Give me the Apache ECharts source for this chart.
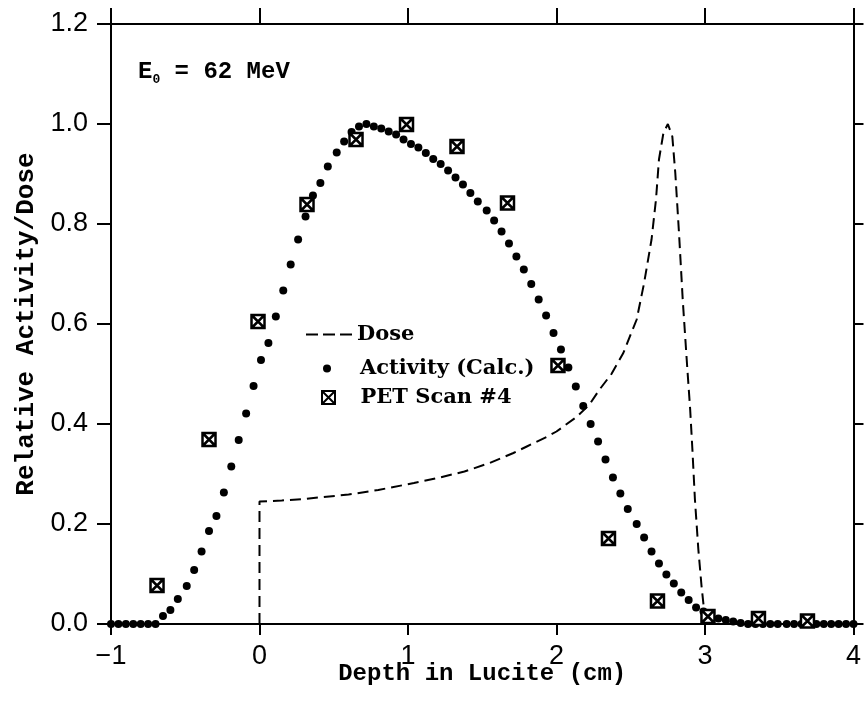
<!DOCTYPE html>
<html>
<head>
<meta charset="utf-8">
<script src="https://cdn.jsdelivr.net/npm/echarts@6/dist/echarts.min.js"></script>
<style>
  html, body { margin: 0; padding: 0; background: #fff; }
  #chart { width: 864px; height: 704px; }
</style>
</head>
<body>
<div id="chart"></div>
<script>
// calculated activity (dots)
const ACT_X = [
  -1.00, -0.95, -0.90, -0.85, -0.80, -0.75, -0.70, -0.65, -0.60, -0.55,
  -0.49, -0.44, -0.39, -0.34, -0.29, -0.24, -0.19, -0.14, -0.09, -0.04,
  0.01, 0.06, 0.11, 0.16, 0.21, 0.26, 0.31, 0.36, 0.41, 0.46,
  0.52, 0.57, 0.62, 0.67, 0.72, 0.77, 0.82, 0.87, 0.92, 0.97,
  1.02, 1.07, 1.12, 1.17, 1.22, 1.27, 1.32, 1.37, 1.42, 1.47,
  1.53, 1.58, 1.63, 1.68, 1.73, 1.78, 1.83, 1.88, 1.93, 1.98,
  2.03, 2.08, 2.13, 2.18, 2.23, 2.28, 2.33, 2.38, 2.43, 2.48,
  2.54, 2.59, 2.64, 2.69, 2.74, 2.79, 2.84, 2.89, 2.94, 2.99,
  3.04, 3.09, 3.14, 3.19, 3.24, 3.29, 3.34, 3.39, 3.44, 3.49,
  3.55, 3.60, 3.65, 3.70, 3.75, 3.80, 3.85, 3.90, 3.95, 4.00
];
const ACT_Y = [
  0, 0, 0, 0, 0, 0, 0, 0.016, 0.028, 0.050,
  0.076, 0.108, 0.145, 0.186, 0.216, 0.263, 0.315, 0.368, 0.421, 0.476,
  0.528, 0.562, 0.615, 0.667, 0.719, 0.769, 0.815, 0.857, 0.882, 0.915,
  0.943, 0.965, 0.984, 0.995, 1.000, 0.995, 0.991, 0.985, 0.979, 0.969,
  0.960, 0.953, 0.942, 0.930, 0.920, 0.907, 0.893, 0.879, 0.862, 0.845,
  0.827, 0.807, 0.785, 0.761, 0.735, 0.709, 0.680, 0.649, 0.617, 0.582,
  0.549, 0.513, 0.475, 0.436, 0.400, 0.365, 0.329, 0.293, 0.261, 0.230,
  0.200, 0.173, 0.145, 0.121, 0.099, 0.081, 0.063, 0.048, 0.033, 0.025,
  0.016, 0.011, 0.008, 0.005, 0.002, 0, 0, 0, 0, 0,
  0, 0, 0, 0, 0, 0, 0, 0, 0, 0
];

// PET scan #4 (boxed crosses)
const PET_X = [-0.69, -0.34, -0.01, 0.32, 0.65, 0.99, 1.33, 1.67, 2.01, 2.35, 2.68, 3.02, 3.36, 3.69];
const PET_Y = [0.077, 0.369, 0.605, 0.839, 0.969, 0.999, 0.955, 0.842, 0.517, 0.171, 0.046, 0.015, 0.011, 0.006];

// dose (dashed)
const DOSE_X = [
  0, 0, 0.15, 0.3, 0.6, 0.8, 1.04, 1.2, 1.38, 1.55, 1.71, 1.8, 1.94, 2.0, 2.13,
  2.22, 2.29, 2.37, 2.45, 2.54, 2.59, 2.64, 2.67, 2.69, 2.72, 2.75, 2.78, 2.80,
  2.825, 2.85, 2.88, 2.90, 2.915, 2.932, 2.955, 2.977, 2.993, 3.01, 3.05, 4
];
const DOSE_Y = [
  0, 0.245, 0.247, 0.250, 0.259, 0.268, 0.282, 0.292, 0.305, 0.322, 0.342, 0.355, 0.375, 0.385, 0.413,
  0.438, 0.469, 0.500, 0.542, 0.609, 0.682, 0.769, 0.849, 0.929, 0.982, 1.000, 0.975, 0.902,
  0.782, 0.649, 0.515, 0.430, 0.350, 0.250, 0.150, 0.075, 0.030, 0.005, 0, 0
];

const X_TICKS = [-1, 0, 1, 2, 3, 4];
const Y_TICKS = ['0.0', '0.2', '0.4', '0.6', '0.8', '1.0', '1.2'];

const PET_SYMBOL = 'path://M0,0H10V10H0ZM0,0L10,10M10,0L0,10';
const MONO = 'Liberation Mono';

const zip = (xs, ys) => xs.map((x, i) => [x, ys[i]]);

const chart = echarts.init(document.getElementById('chart'));

const legendBase = {
  orient: 'vertical',
  padding: 0,
  selectedMode: false,
  textStyle: { fontFamily: 'DejaVu Serif', fontWeight: 'bold', fontSize: 21, color: '#000' }
};

const tickLabelStyle = { fontFamily: 'Liberation Sans', fontSize: 27, color: '#000' };
const blackLine = { color: '#000', width: 2 };

chart.setOption({
  animation: false,
  backgroundColor: '#fff',
  grid: { left: 111, right: 4, top: 24, bottom: 80 },
  xAxis: [
    {
      type: 'value', min: -1, max: 4, interval: 1, position: 'bottom',
      name: 'Depth in Lucite (cm)', nameLocation: 'middle', nameGap: 38, nameMoveOverlap: false,
      nameTextStyle: { fontFamily: MONO, fontWeight: 'bold', fontSize: 24, color: '#000' },
      axisLine: { onZero: false, lineStyle: blackLine },
      axisTick: { inside: false, length: 11, lineStyle: blackLine },
      axisLabel: Object.assign({ margin: 19, formatter: v => {
        const i = X_TICKS.indexOf(v);
        return i < 0 ? '' : (v < 0 ? '\u2212' + (-v) : String(v));
      } }, tickLabelStyle),
      splitLine: { show: false }
    },
    {
      type: 'value', min: -1, max: 4, interval: 1, position: 'top',
      axisLine: { onZero: false, lineStyle: blackLine },
      axisTick: { inside: false, length: 16, lineStyle: blackLine },
      axisLabel: { show: false },
      splitLine: { show: false }
    }
  ],
  yAxis: [
    {
      type: 'value', min: 0, max: 1.2, interval: 0.2, position: 'left',
      name: 'Relative Activity/Dose', nameLocation: 'middle', nameGap: 72, nameMoveOverlap: false,
      nameTextStyle: { fontFamily: MONO, fontWeight: 'bold', fontSize: 26, color: '#000' },
      axisLine: { onZero: false, lineStyle: blackLine },
      axisTick: { inside: false, length: 14, lineStyle: blackLine },
      axisLabel: Object.assign({ margin: 23, formatter: v => Y_TICKS[Math.round(v / 0.2)] }, tickLabelStyle),
      splitLine: { show: false }
    },
    {
      type: 'value', min: 0, max: 1.2, interval: 0.2, position: 'right',
      axisLine: { onZero: false, lineStyle: blackLine },
      axisTick: { inside: false, length: 10, lineStyle: blackLine },
      axisLabel: { show: false },
      splitLine: { show: false }
    }
  ],
  legend: [
    Object.assign({}, legendBase, {
      data: ['Dose'], left: 305, top: 324, itemWidth: 46, itemHeight: 12,
      lineStyle: { type: [12, 5], width: 2 },
      itemStyle: { opacity: 0 }
    }),
    Object.assign({}, legendBase, {
      data: [{ name: 'Activity (Calc.)', icon: 'circle' }], left: 323, top: 358, itemWidth: 56, itemHeight: 8
    }),
    Object.assign({}, legendBase, {
      data: [{ name: 'PET Scan #4', icon: PET_SYMBOL }], left: 321, top: 387, itemWidth: 54, itemHeight: 13
    })
  ],
  graphic: [
    {
      type: 'text', left: 138, top: 60,
      style: {
        rich: {
          a: { fontFamily: MONO, fontWeight: 'bold', fontSize: 24, fill: '#000' },
          s: { fontFamily: MONO, fontWeight: 'bold', fontSize: 13, fill: '#000', padding: [16, 0, 0, 0] }
        },
        text: '{a|E}{s|0}{a| = 62 MeV}'
      }
    }
  ],
  series: [
    {
      name: 'Dose', type: 'line', data: zip(DOSE_X, DOSE_Y),
      symbol: 'none', smooth: false, z: 2,
      lineStyle: { color: '#000', width: 2, type: [11, 6] },
      itemStyle: { color: '#000' }
    },
    {
      name: 'Activity (Calc.)', type: 'scatter', data: zip(ACT_X, ACT_Y),
      symbol: 'circle', symbolSize: 8, z: 3,
      itemStyle: { color: '#000', opacity: 1 }
    },
    {
      name: 'PET Scan #4', type: 'scatter', data: zip(PET_X, PET_Y),
      symbol: PET_SYMBOL, symbolSize: 13, z: 4,
      itemStyle: { color: '#fff', borderColor: '#000', borderWidth: 2.5, opacity: 1 }
    }
  ]
});
</script>
</body>
</html>
